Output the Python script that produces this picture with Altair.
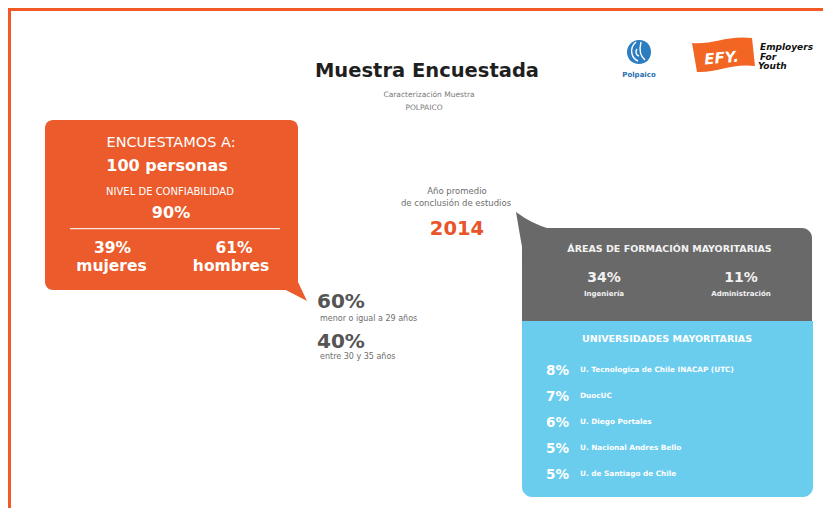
import altair as alt
import pandas as pd

# ---------------- data ----------------
TITLE = "Muestra Encuestada"
SUBTITLE = ["Caracterización Muestra", "POLPAICO"]
SAMPLE_HEAD = "ENCUESTAMOS A:"
SAMPLE_SIZE = 100
CONF_LABEL = "NIVEL DE CONFIABILIDAD"
CONF_PCT = 90
GENDER = ["mujeres", "hombres"]
GENDER_PCT = [39, 61]
AGE_PCT = [60, 40]
AGE_LABELS = ["menor o igual a 29 años", "entre 30 y 35 años"]
YEAR_LABEL = ["Año promedio", "de conclusión de estudios"]
YEAR = 2014
AREAS_TITLE = "ÁREAS DE FORMACIÓN MAYORITARIAS"
AREAS = ["Ingeniería", "Administración"]
AREA_PCT = [34, 11]
UNI_TITLE = "UNIVERSIDADES MAYORITARIAS"
UNIVERSITIES = ["U. Tecnologica de Chile INACAP (UTC)", "DuocUC", "U. Diego Portales",
                "U. Nacional Andres Bello", "U. de Santiago de Chile"]
UNI_PCT = [8, 7, 6, 5, 5]

# ---------------- layout helpers ----------------
W, H = 815, 500
OX, OY = 8, 8
FONT = "DejaVu Sans"
ORANGE = "#EB5B2B"
GREY = "#696969"
BLUE = "#6BCDEE"
WHITE = "#ffffff"
ONE = pd.DataFrame({"i": [0]})


def T(text, x, y, size, color=WHITE, weight="normal", align="center", style="normal", angle=0):
    return alt.Chart(ONE).mark_text(
        text=text, fontSize=size, color=color, fontWeight=weight, align=align,
        baseline="alphabetic", fontStyle=style, font=FONT, angle=angle
    ).encode(x=alt.value(x - OX), y=alt.value(y - OY))


def R(x1, x2, y1, y2, color, **kw):
    return alt.Chart(ONE).mark_rect(color=color, **kw).encode(
        x=alt.value(x1 - OX), x2=alt.value(x2 - OX), y=alt.value(y1 - OY), y2=alt.value(y2 - OY))


def S(path, x, y, color, filled=True, sw=0):
    kw = dict(shape=path, size=4, filled=filled, opacity=1)
    if filled:
        kw.update(fill=color, strokeOpacity=0)
    else:
        kw.update(stroke=color, strokeWidth=sw, fillOpacity=0)
    return alt.Chart(ONE).mark_point(**kw).encode(x=alt.value(x - OX), y=alt.value(y - OY))


layers = []
# border
layers.append(R(8, W + 8, 8, 11, "#F15A24"))
layers.append(R(8, 11, 8, H + 8, "#F15A24"))

# title
layers.append(T(TITLE, 427, 77, 19.5, "#1f1f1f", "bold"))
layers.append(T(SUBTITLE[0], 429, 96.5, 7.5, "#7a7a7a"))
layers.append(T(SUBTITLE[1], 424, 109.5, 7.5, "#7a7a7a"))

# logos
layers.append(S("M0,-12 C8,-12 12,-6 12,0 C12,7 7,12 0,12 C-7,12 -12,7 -12,0 C-12,-6 -7,-12 0,-12 Z",
                639, 52, "#2D7DC1"))
layers.append(S("M-3,-10 C-10,-4 -8,6 -1,9 M2,-10 C0,-2 1,4 6,8 M-2,-3 C-4,0 -3,3 0,4",
                639, 52, WHITE, filled=False, sw=1.4))
layers.append(T("Polpaico", 639, 76.5, 7, "#2a6db0", "bold"))
layers.append(S("M-30,-12 C-10,-10 5,-20 30,-17 L33,11 C10,8 -5,18 -25,17 Z", 722, 55, "#F26522"))
layers.append(T("EFY.", 722, 63, 15, WHITE, "bold", style="italic", angle=355))
layers.append(T("Employers", 760, 49.5, 9, "#111111", "bold", "left", "italic"))
layers.append(T("For", 760, 59.5, 9, "#111111", "bold", "left", "italic"))
layers.append(T("Youth", 758, 68.5, 9, "#111111", "bold", "left", "italic"))

# orange box
layers.append(R(45, 298, 120, 290, ORANGE, cornerRadius=8))
layers.append(S("M-16,-2 L0,-8 L9,11 Z", 298, 290, ORANGE))
layers.append(T(SAMPLE_HEAD, 171, 146.5, 14.5))
layers.append(T(f"{SAMPLE_SIZE} personas", 167, 171, 16, weight="bold"))
layers.append(T(CONF_LABEL, 170, 195, 10))
layers.append(T(f"{CONF_PCT}%", 171, 218, 16, weight="bold"))
layers.append(R(70, 280, 228, 229.3, WHITE, opacity=0.85))
gx = [112.5, 234]
gx2 = [111.5, 231]
for i in range(2):
    layers.append(T(f"{GENDER_PCT[i]}%", gx[i], 252.5, 15.5, weight="bold"))
    layers.append(T(GENDER[i], gx2[i], 271, 15.5, weight="bold"))

# middle
layers.append(T(YEAR_LABEL[0], 457, 194, 8.5, "#6e6e6e"))
layers.append(T(YEAR_LABEL[1], 456, 205.5, 8.5, "#6e6e6e"))
layers.append(T(str(YEAR), 457, 235, 19.5, "#E8552A", "bold"))
ay = [308, 348]
aly = [320.5, 358.5]
for i in range(2):
    layers.append(T(f"{AGE_PCT[i]}%", 317, ay[i], 20, "#555555", "bold", "left"))
    layers.append(T(AGE_LABELS[i], 320, aly[i], 8, "#6e6e6e", align="left"))

# grey box
layers.append(R(522, 812, 228, 322, GREY, cornerRadiusTopRight=10))
layers.append(S("M2,30 Q-2,8 -6,-16 Q10,-4 28,1 L28,8 L2,8 Z", 522, 228, GREY))
layers.append(T(AREAS_TITLE, 669.5, 251.5, 9.5, "#f2f2f2", "bold"))
arx = [604, 741]
for i in range(2):
    layers.append(T(f"{AREA_PCT[i]}%", arx[i], 281.5, 14, "#f2f2f2", "bold"))
    layers.append(T(AREAS[i], arx[i], 295.5, 7, "#f2f2f2", "bold"))

# blue box
layers.append(R(522, 813, 321, 497, BLUE, cornerRadiusBottomLeft=10, cornerRadiusBottomRight=10))
layers.append(T(UNI_TITLE, 667, 341.5, 9.5, WHITE, "bold"))
uni = pd.DataFrame({"rank": list(range(len(UNIVERSITIES))), "name": UNIVERSITIES,
                    "pct": [f"{p}%" for p in UNI_PCT]})
yenc = alt.Y("rank:O", axis=None, scale=alt.Scale(type="point", padding=0, range=[375 - OY, 479 - OY]))
layers.append(alt.Chart(uni).mark_text(fontSize=13.5, color=WHITE, align="right", baseline="alphabetic",
                                        font=FONT, fontWeight="bold")
              .encode(x=alt.value(569 - OX), y=yenc, text="pct:N"))
layers.append(alt.Chart(uni).mark_text(fontSize=7.3, color=WHITE, align="left", baseline="alphabetic",
                                        font=FONT, fontWeight="bold", dy=-3)
              .encode(x=alt.value(580 - OX), y=yenc, text="name:N"))

chart = alt.layer(*layers).properties(width=W, height=H, padding=0, autosize="none",
                                      background="white").configure_view(stroke="transparent")
chart.save("out.html", embed_options={"renderer": "svg", "actions": False})
